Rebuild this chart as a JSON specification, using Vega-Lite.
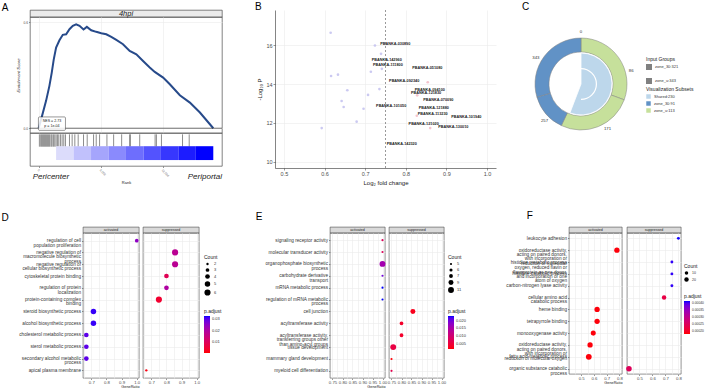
{
"$schema":"https://vega.github.io/schema/vega-lite/v6.json",
"background":"white",
"padding":{"left":1,"top":1,"right":2,"bottom":0},
"config":{
 "font":"Liberation Sans",
 "view":{"stroke":null},
 "axis":{"labelFontSize":4.3,"labelLineHeight":4.4,"titleFontSize":5.5,"labelColor":"#4d4d4d","titleColor":"#1a1a1a","titleFontWeight":"normal","tickColor":"#333333","domainColor":"#333333","gridColor":"#ebebeb","gridWidth":0.6,"tickSize":2,"tickWidth":0.5,"domainWidth":0.6,"labelPadding":1,"titlePadding":2},
 "legend":{"titleFontSize":5,"labelFontSize":4,"titleFontWeight":"normal","titleColor":"#1a1a1a","labelColor":"#333333","titlePadding":2,"labelOffset":3,"rowPadding":2},
 "title":{"fontSize":10,"fontWeight":"normal","anchor":"start","color":"#000000"}
},
"datasets":{
 "D":[
  {"t":"regulation of cell|population proliferation","g":"activated","r":1.0,"n":3,"p":0.025},
  {"t":"negative regulation of|macromolecule biosynthetic|process","g":"suppressed","r":0.857,"n":6,"p":0.018},
  {"t":"negative regulation of|cellular biosynthetic process","g":"suppressed","r":0.857,"n":6,"p":0.018},
  {"t":"cytoskeletal protein binding","g":"suppressed","r":0.8,"n":4,"p":0.009},
  {"t":"regulation of protein|localization","g":"suppressed","r":0.8,"n":4,"p":0.02},
  {"t":"protein-containing complex|binding","g":"suppressed","r":0.75,"n":6,"p":0.004},
  {"t":"steroid biosynthetic process","g":"activated","r":0.714,"n":5,"p":0.032},
  {"t":"alcohol biosynthetic process","g":"activated","r":0.714,"n":5,"p":0.032},
  {"t":"cholesterol metabolic process","g":"activated","r":0.667,"n":4,"p":0.03},
  {"t":"sterol metabolic process","g":"activated","r":0.667,"n":4,"p":0.03},
  {"t":"secondary alcohol metabolic|process","g":"activated","r":0.667,"n":4,"p":0.03},
  {"t":"apical plasma membrane","g":"suppressed","r":0.667,"n":2,"p":0.001}
 ],
 "E":[
  {"t":"signaling receptor activity","g":"activated","r":1.0,"n":5,"p":0.008},
  {"t":"molecular transducer activity","g":"activated","r":1.0,"n":5,"p":0.008},
  {"t":"organophosphate biosynthetic|process","g":"activated","r":1.0,"n":11,"p":0.016},
  {"t":"carbohydrate derivative|transport","g":"activated","r":1.0,"n":5,"p":0.02},
  {"t":"mRNA metabolic process","g":"activated","r":1.0,"n":5,"p":0.023},
  {"t":"regulation of mRNA metabolic|process","g":"activated","r":1.0,"n":5,"p":0.023},
  {"t":"cell junction","g":"suppressed","r":0.857,"n":9,"p":0.003},
  {"t":"acyltransferase activity","g":"suppressed","r":0.8,"n":7,"p":0.004},
  {"t":"acyltransferase activity,|transferring groups other|than amino-acyl groups","g":"suppressed","r":0.8,"n":7,"p":0.004},
  {"t":"tissue development","g":"suppressed","r":0.7586,"n":11,"p":0.006},
  {"t":"mammary gland development","g":"suppressed","r":0.75,"n":5,"p":0.002},
  {"t":"myeloid cell differentiation","g":"suppressed","r":0.75,"n":5,"p":0.007}
 ],
 "F":[
  {"t":"leukocyte adhesion","g":"suppressed","r":0.8,"n":4,"p":0.000415},
  {"t":"oxidoreductase activity,|acting on paired donors,|with incorporation or|reduction of molecular|oxygen, reduced flavin or|flavoprotein as one donor,|and incorporation of one|atom of oxygen","g":"activated","r":0.78,"n":32,"p":0.000185},
  {"t":"histidine metabolic process","g":"suppressed","r":0.75,"n":4,"p":0.00041},
  {"t":"histidine catabolic process","g":"suppressed","r":0.75,"n":4,"p":0.00041},
  {"t":"carbon-nitrogen lyase activity","g":"suppressed","r":0.75,"n":4,"p":0.00041},
  {"t":"cellular amino acid|catabolic process","g":"suppressed","r":0.69,"n":20,"p":0.00023},
  {"t":"heme binding","g":"activated","r":0.625,"n":32,"p":0.000185},
  {"t":"tetrapyrrole binding","g":"activated","r":0.625,"n":32,"p":0.000185},
  {"t":"monooxygenase activity","g":"activated","r":0.595,"n":28,"p":0.000185},
  {"t":"oxidoreductase activity,|acting on paired donors,|with incorporation or|reduction of molecular oxygen","g":"activated","r":0.57,"n":32,"p":0.000185},
  {"t":"fatty acid metabolic process","g":"activated","r":0.56,"n":40,"p":0.000185},
  {"t":"organic substance catabolic|process","g":"suppressed","r":0.42,"n":36,"p":0.00025}
 ]
},
"spacing":24,
"resolve":{"scale":{"color":"independent","size":"independent","fill":"independent","stroke":"independent"}},
"vconcat":[
 {
  "spacing":26,
  "resolve":{"scale":{"color":"independent","size":"independent","fill":"independent","stroke":"independent"}},
  "hconcat":[
   {
    "spacing":31,
    "resolve":{"scale":{"color":"independent","size":"independent","fill":"independent","stroke":"independent"}},
    "hconcat":[
     {
      "spacing":7,
      "resolve":{"scale":{"color":"independent","size":"independent","fill":"independent","stroke":"independent"}},
      "hconcat":[
       {"width":8,"height":1,"data":{"values":[{"lab":"A"}]},"mark":{"type":"text","fontSize":10,"baseline":"alphabetic","color":"#000000"},"encoding":{"text":{"field":"lab"}}},
       {
        "bounds":"flush","spacing":0,
        "vconcat":[
         {"width":192,"height":7,"data":{"values":[{"lab":"4hpi"}]},"view":{"fill":"#ebebeb","stroke":"#4d4d4d","strokeWidth":0.7},
          "mark":{"type":"text","fontSize":7.5,"fontStyle":"italic","color":"#1a1a1a","baseline":"middle"},
          "encoding":{"text":{"field":"lab"}}},
         {"width":192,"height":116,"view":{"stroke":"#4d4d4d","strokeWidth":0.7},
          "layer":[
           {"data":{"values":[{"rank":0,"es":0},{"rank":273,"es":0.07},{"rank":597,"es":0.155},{"rank":867,"es":0.24},{"rank":1056,"es":0.315},{"rank":1218,"es":0.39},{"rank":1407,"es":0.457},{"rank":1677,"es":0.498},{"rank":1947,"es":0.529},{"rank":2217,"es":0.532},{"rank":2487,"es":0.561},{"rank":2757,"es":0.58},{"rank":3026,"es":0.589},{"rank":3297,"es":0.58},{"rank":3621,"es":0.559},{"rank":3891,"es":0.574},{"rank":4242,"es":0.555},{"rank":4647,"es":0.546},{"rank":5052,"es":0.538},{"rank":5457,"es":0.532},{"rank":5862,"es":0.517},{"rank":6267,"es":0.5},{"rank":6807,"es":0.476},{"rank":7347,"es":0.438},{"rank":7887,"es":0.419},{"rank":8427,"es":0.381},{"rank":8967,"es":0.344},{"rank":9372,"es":0.319},{"rank":10047,"es":0.287},{"rank":10587,"es":0.249},{"rank":11397,"es":0.187},{"rank":12207,"es":0.145},{"rank":13017,"es":0.089},{"rank":14097,"es":0.0}]},
            "mark":{"type":"line","color":"#274a8a","strokeWidth":2},
            "encoding":{
             "x":{"field":"rank","type":"quantitative","scale":{"domain":[-700,14800],"nice":false,"zero":false},"axis":{"title":null,"labels":false,"ticks":false,"domain":false,"grid":true,"values":[0,2500,5000,7500,10000,12500]}},
             "y":{"field":"es","type":"quantitative","scale":{"domain":[-0.027,0.63],"nice":false,"zero":false},"axis":{"title":"Enrichment Score","titleFontSize":4.3,"titleFontStyle":"italic","labelFontSize":3.3,"values":[0,0.1,0.2,0.3,0.4,0.5,0.6],"format":".1f","labelExpr":"round(datum.value*10)%2==0 ? datum.label : ''","tickOpacity":{"condition":{"test":"round(datum.value*10)%2!=0","value":0},"value":1},"grid":true,"domain":false,"tickSize":1.5}}
            }},
           {"data":{"values":[{}]},"mark":{"type":"rule","color":"#333333","strokeWidth":0.7},"encoding":{"y":{"datum":0}}},
           {"data":{"values":[{}]},"mark":{"type":"rect","fill":"white","fillOpacity":0.85,"stroke":"#333333","strokeWidth":0.5,"cornerRadius":1},"encoding":{"x":{"datum":-20},"x2":{"datum":2163},"y":{"datum":0.064},"y2":{"datum":-0.012}}},
           {"data":{"values":[{}]},"mark":{"type":"text","fontSize":3.6,"color":"#1a1a1a"},"encoding":{"x":{"datum":1070},"y":{"datum":0.043},"text":{"value":"NES = 2.73"}}},
           {"data":{"values":[{}]},"mark":{"type":"text","fontSize":3.6,"color":"#1a1a1a"},"encoding":{"x":{"datum":1070},"y":{"datum":0.01},"text":{"value":"p = 1e-04"}}}
          ]},
         {"width":192,"height":33,"view":{"stroke":"#4d4d4d","strokeWidth":0.7},
          "layer":[
           {"data":{"values":[{"rank":57},{"rank":165},{"rank":246},{"rank":327},{"rank":408},{"rank":489},{"rank":570},{"rank":651},{"rank":732},{"rank":813},{"rank":894},{"rank":1002},{"rank":1083},{"rank":1191},{"rank":1299},{"rank":1407},{"rank":1515},{"rank":1623},{"rank":1758},{"rank":1893},{"rank":2028},{"rank":2163},{"rank":2487},{"rank":2703},{"rank":2919},{"rank":3189},{"rank":3621},{"rank":3918},{"rank":4431},{"rank":4647},{"rank":4917},{"rank":5511},{"rank":6051},{"rank":6699},{"rank":7347},{"rank":7401},{"rank":8157},{"rank":9399},{"rank":9507},{"rank":9912},{"rank":11613},{"rank":12153}]},
            "mark":{"type":"rule","color":"#1a1a1a","strokeWidth":0.5},
            "encoding":{
             "x":{"field":"rank","type":"quantitative","scale":{"domain":[-700,14800],"nice":false,"zero":false},"axis":{"title":"Rank","titleFontSize":4,"values":[0,5000,10000],"labelAngle":45,"labelFontSize":3,"domain":false,"grid":false,"tickSize":1.5,"titlePadding":3}},
             "y":{"datum":0.585,"scale":{"domain":[0,1]},"axis":null},
             "y2":{"datum":0.96}
            }},
           {"data":{"values":[{"bin":1,"r0":1407,"r1":2817},{"bin":2,"r0":2817,"r1":4227},{"bin":3,"r0":4227,"r1":5637},{"bin":4,"r0":5637,"r1":7047},{"bin":5,"r0":7047,"r1":8457},{"bin":6,"r0":8457,"r1":9867},{"bin":7,"r0":9867,"r1":11277},{"bin":8,"r0":11277,"r1":12687},{"bin":9,"r0":12687,"r1":14097}]},
            "mark":{"type":"rect"},
            "encoding":{"x":{"field":"r0","type":"quantitative"},"x2":{"field":"r1"},"y":{"datum":0.18},"y2":{"datum":0.6},
             "fill":{"field":"bin","type":"quantitative","scale":{"domain":[1,9],"range":["#dcdcfb","#0000ff"],"interpolate":"rgb"},"legend":null}}},
           {"data":{"values":[{"lab":"Pericenter","rank":988},{"lab":"Periportal","rank":13420}]},
            "mark":{"type":"text","fontSize":8,"fontStyle":"italic","color":"#1a1a1a","baseline":"middle"},
            "encoding":{"x":{"field":"rank","type":"quantitative"},"y":{"datum":-0.33},"text":{"field":"lab"}}}
          ]}
        ]
       }
      ]
     },
     {
      "title":{"text":"B","dx":-2,"offset":-2},
      "width":221,"height":158,
      "layer":[
       {"data":{"values":[{"fc":0.615,"p":16.63,"grp":"low"},{"fc":0.724,"p":15.98,"grp":"low"},{"fc":0.739,"p":15.55,"grp":"low"},{"fc":0.741,"p":14.78,"grp":"low"},{"fc":0.714,"p":14.63,"grp":"low"},{"fc":0.616,"p":14.41,"grp":"low"},{"fc":0.633,"p":14.48,"grp":"low"},{"fc":0.656,"p":13.68,"grp":"low"},{"fc":0.735,"p":13.74,"grp":"low"},{"fc":0.707,"p":13.44,"grp":"low"},{"fc":0.642,"p":13.13,"grp":"low"},{"fc":0.647,"p":12.82,"grp":"low"},{"fc":0.696,"p":12.73,"grp":"low"},{"fc":0.679,"p":12.07,"grp":"low"},{"fc":0.593,"p":11.74,"grp":"low"},{"fc":0.854,"p":14.09,"grp":"high"},{"fc":0.828,"p":13.42,"grp":"high"},{"fc":0.827,"p":12.37,"grp":"high"},{"fc":0.86,"p":11.74,"grp":"high"}]},
        "mark":{"type":"circle","size":7,"opacity":0.9},
        "encoding":{
         "x":{"field":"fc","type":"quantitative","scale":{"domain":[0.478,1.022],"nice":false,"zero":false},"axis":{"title":"Log₂ fold change","titleFontSize":6,"labelFontSize":5.5,"values":[0.5,0.55,0.6,0.65,0.7,0.75,0.8,0.85,0.9,0.95,1.0],"format":".1f","labelExpr":"round(datum.value*100)%10==0 ? datum.label : ''","tickOpacity":{"condition":{"test":"round(datum.value*100)%10!=0","value":0},"value":1},"grid":true,"titlePadding":3}},
         "y":{"field":"p","type":"quantitative","scale":{"domain":[9.69,17.8],"nice":false,"zero":false},"axis":{"title":"-Log₁₀ P","titleFontSize":6,"labelFontSize":5.5,"values":[10,11,12,13,14,15,16,17],"labelExpr":"datum.value%2==0 ? datum.label : ''","tickOpacity":{"condition":{"test":"datum.value%2!=0","value":0},"value":1},"grid":true,"titlePadding":3}},
         "color":{"field":"grp","type":"nominal","scale":{"domain":["low","high"],"range":["#c5c3ef","#f3bcc6"]},"legend":null}
        }},
       {"data":{"values":[{}]},"mark":{"type":"rule","strokeDash":[2,2],"color":"#555555","strokeWidth":0.6},"encoding":{"x":{"datum":0.75}}},
       {"data":{"values":[{"fc":0.774,"p":16.03,"name":"PBANKA-030890"},{"fc":0.753,"p":15.21,"name":"PBANKA-142960"},{"fc":0.756,"p":14.99,"name":"PBANKA-111800"},{"fc":0.853,"p":14.84,"name":"PBANKA-051080"},{"fc":0.796,"p":14.14,"name":"PBANKA-092340"},{"fc":0.859,"p":13.69,"name":"PBANKA-094100"},{"fc":0.85,"p":13.52,"name":"PBANKA-121830"},{"fc":0.88,"p":13.2,"name":"PBANKA-070090"},{"fc":0.764,"p":12.87,"name":"PBANKA-101050"},{"fc":0.869,"p":12.77,"name":"PBANKA-121880"},{"fc":0.866,"p":12.45,"name":"PBANKA-113230"},{"fc":0.949,"p":12.33,"name":"PBANKA-101940"},{"fc":0.844,"p":11.93,"name":"PBANKA-121020"},{"fc":0.917,"p":11.78,"name":"PBANKA-130010"},{"fc":0.79,"p":10.9,"name":"PBANKA-142320"}]},
        "mark":{"type":"text","fontSize":3.8,"fontWeight":"bold","color":"#222222"},
        "encoding":{"x":{"field":"fc","type":"quantitative"},"y":{"field":"p","type":"quantitative"},"text":{"field":"name"}}}
      ]
     }
    ]
   },
   {
    "title":{"text":"C","dx":-1,"offset":-2},
    "width":116,"height":148,
    "layer":[
     {"data":{"values":[{"a0":0,"a1":126,"subset":"zone_u:113","group":"zone_u:343"},{"a0":126,"a1":235,"subset":"zone_u:113","group":"zone_u:343"},{"a0":235,"a1":290,"subset":"zone_30:91","group":"zone_30:321"},{"a0":290,"a1":412,"subset":"zone_30:91","group":"zone_30:321"}]},
      "mark":{"type":"arc","radius":46,"radius2":32,"strokeWidth":0.5},
      "encoding":{
       "theta":{"field":"a0","type":"quantitative","scale":{"domain":[0,412],"range":[0,6.2832]},"stack":null},
       "theta2":{"field":"a1"},
       "fill":{"field":"subset","type":"nominal","scale":{"domain":["Shared:230","zone_30:91","zone_u:113"],"range":["#bdd7eb","#6192c6","#c6e09b"]},"legend":{"title":"Visualization Subsets","orient":"none","legendX":123,"legendY":77,"symbolType":"square","symbolSize":20,"symbolStrokeWidth":0}},
       "stroke":{"field":"group","type":"nominal","scale":{"domain":["zone_30:321","zone_u:343"],"range":["#808080","#808080"]},"legend":{"title":"Input Groups","orient":"none","legendX":123,"legendY":47,"symbolType":"square","symbolSize":20,"symbolFillColor":"#808080"}}
      }},
     {"data":{"values":[{"a0":0,"a1":230,"subset":"Shared:230"}]},
      "mark":{"type":"arc","radius":31,"radius2":0,"stroke":"white","strokeWidth":0.8},
      "encoding":{"theta":{"field":"a0","type":"quantitative","stack":null},"theta2":{"field":"a1"},"fill":{"field":"subset","type":"nominal"}}},
     {"data":{"values":[{"a0":0,"a1":206}]},
      "mark":{"type":"arc","radius":16,"radius2":14.8,"fill":"white"},
      "encoding":{"theta":{"field":"a0","type":"quantitative","stack":null},"theta2":{"field":"a1"}}},
     {"data":{"values":[{"v":0,"lab":"0"},{"v":86,"lab":"86"},{"v":171,"lab":"171"},{"v":257,"lab":"257"},{"v":343,"lab":"343"}]},
      "mark":{"type":"text","radius":52,"fontSize":4.3,"color":"#333333"},
      "encoding":{"theta":{"field":"v","type":"quantitative","stack":null},"text":{"field":"lab"}}}
    ]
   }
  ]
 },
 {
  "spacing":36,
  "resolve":{"scale":{"color":"independent","size":"independent","fill":"independent","stroke":"independent"}},
  "hconcat":[
   {
    "spacing":33,
    "resolve":{"scale":{"color":"independent","size":"independent","fill":"independent","stroke":"independent"}},
    "hconcat":[
     {
      "spacing":9,
      "resolve":{"scale":{"color":"independent","size":"independent","fill":"independent","stroke":"independent"}},
      "hconcat":[
       {"width":8,"height":1,"data":{"values":[{"lab":"D"}]},"mark":{"type":"text","fontSize":10,"baseline":"alphabetic","color":"#000000","dy":-7},"encoding":{"text":{"field":"lab"}}},
       {
        "spacing":1,
        "hconcat":[
         {"bounds":"flush","spacing":0,"vconcat":[
          {"width":56,"height":6,"data":{"values":[{"g":"activated"}]},"view":{"fill":"#d9d9d9","stroke":"#4d4d4d","strokeWidth":0.6},"mark":{"type":"text","fontSize":3.6,"color":"#1a1a1a","baseline":"middle"},"encoding":{"text":{"field":"g"}}},
          {"width":56,"height":145,"data":{"name":"D"},"transform":[{"filter":"datum.g=='activated'"}],"view":{"stroke":"#4d4d4d","strokeWidth":0.6},
           "mark":{"type":"circle","opacity":1},
           "encoding":{
            "x":{"field":"r","type":"quantitative","scale":{"domain":[0.645,1.015],"nice":false,"zero":false},"axis":{"title":"GeneRatio","titleX":56,"titleAlign":"right","titleFontSize":3.8,"titlePadding":0.5,"labelPadding":0.5,"tickSize":1.5,"values":[0.65,0.7,0.75,0.8,0.85,0.9,0.95,1.0],"format":".1f","labelExpr":"round(datum.value*100)%10==0 ? datum.label : ''","tickOpacity":{"condition":{"test":"round(datum.value*100)%10!=0","value":0},"value":1},"grid":true,"domain":false}},
            "y":{"field":"t","type":"nominal","scale":{"domain":["regulation of cell|population proliferation","negative regulation of|macromolecule biosynthetic|process","negative regulation of|cellular biosynthetic process","cytoskeletal protein binding","regulation of protein|localization","protein-containing complex|binding","steroid biosynthetic process","alcohol biosynthetic process","cholesterol metabolic process","sterol metabolic process","secondary alcohol metabolic|process","apical plasma membrane"],"padding":0.65},"axis":{"title":null,"labelExpr":"split(datum.label,'|')","labelFontSize":4.7,"labelColor":"#333333","grid":true,"domain":false,"tickSize":1.5}},
            "size":{"field":"n","type":"quantitative","scale":{"domain":[2,6],"range":[5.5,38],"zero":false},"legend":{"title":"Count","values":[2,3,4,5,6],"orient":"none","legendX":121,"legendY":28,"symbolFillColor":"black","symbolStrokeWidth":0}},
            "color":{"field":"p","type":"quantitative","scale":{"domain":[0,0.033],"range":["#ff0000","#0000ff"],"interpolate":"lab"},"legend":{"title":"p.adjust","values":[0.01,0.02,0.03],"format":".2f","orient":"none","legendX":121,"legendY":82,"gradientLength":37,"gradientThickness":6}}
           }}
         ]},
         {"bounds":"flush","spacing":0,"vconcat":[
          {"width":56,"height":6,"data":{"values":[{"g":"suppressed"}]},"view":{"fill":"#d9d9d9","stroke":"#4d4d4d","strokeWidth":0.6},"mark":{"type":"text","fontSize":3.6,"color":"#1a1a1a","baseline":"middle"},"encoding":{"text":{"field":"g"}}},
          {"width":56,"height":145,"data":{"name":"D"},"transform":[{"filter":"datum.g=='suppressed'"}],"view":{"stroke":"#4d4d4d","strokeWidth":0.6},
           "mark":{"type":"circle","opacity":1},
           "encoding":{
            "x":{"field":"r","type":"quantitative","scale":{"domain":[0.645,1.015],"nice":false,"zero":false},"axis":{"title":null,"labelPadding":0.5,"tickSize":1.5,"values":[0.65,0.7,0.75,0.8,0.85,0.9,0.95,1.0],"format":".1f","labelExpr":"round(datum.value*100)%10==0 ? datum.label : ''","tickOpacity":{"condition":{"test":"round(datum.value*100)%10!=0","value":0},"value":1},"grid":true,"domain":false}},
            "y":{"field":"t","type":"nominal","scale":{"domain":["regulation of cell|population proliferation","negative regulation of|macromolecule biosynthetic|process","negative regulation of|cellular biosynthetic process","cytoskeletal protein binding","regulation of protein|localization","protein-containing complex|binding","steroid biosynthetic process","alcohol biosynthetic process","cholesterol metabolic process","sterol metabolic process","secondary alcohol metabolic|process","apical plasma membrane"],"padding":0.65},"axis":{"title":null,"labels":false,"ticks":false,"grid":true,"domain":false}},
            "size":{"field":"n","type":"quantitative","scale":{"domain":[2,6],"range":[5.5,38],"zero":false},"legend":{"title":"Count","values":[2,3,4,5,6],"orient":"none","legendX":121,"legendY":28,"symbolFillColor":"black","symbolStrokeWidth":0}},
            "color":{"field":"p","type":"quantitative","scale":{"domain":[0,0.033],"range":["#ff0000","#0000ff"],"interpolate":"lab"},"legend":{"title":"p.adjust","values":[0.01,0.02,0.03],"format":".2f","orient":"none","legendX":121,"legendY":82,"gradientLength":37,"gradientThickness":6}}
           }}
         ]}
        ]
       }
      ]
     },
     {
      "title":{"text":"E","dx":-9,"offset":5},
      "spacing":0,
      "hconcat":[
       {"bounds":"flush","spacing":0,"vconcat":[
        {"width":55,"height":6,"data":{"values":[{"g":"activated"}]},"view":{"fill":"#d9d9d9","stroke":"#4d4d4d","strokeWidth":0.6},"mark":{"type":"text","fontSize":3.6,"color":"#1a1a1a","baseline":"middle"},"encoding":{"text":{"field":"g"}}},
        {"width":55,"height":145,"data":{"name":"E"},"transform":[{"filter":"datum.g=='activated'"}],"view":{"stroke":"#4d4d4d","strokeWidth":0.6},
         "mark":{"type":"circle","opacity":1},
         "encoding":{
          "x":{"field":"r","type":"quantitative","scale":{"domain":[0.7375,1.0125],"nice":false,"zero":false},"axis":{"title":"GeneRatio","titleX":55,"titleAlign":"right","titleFontSize":3.8,"titlePadding":0.5,"labelPadding":0.5,"tickSize":1.5,"values":[0.75,0.775,0.8,0.825,0.85,0.875,0.9,0.925,0.95,0.975,1.0],"format":".2f","labelExpr":"round(datum.value*1000)%50==0 ? datum.label : ''","tickOpacity":{"condition":{"test":"round(datum.value*1000)%50!=0","value":0},"value":1},"grid":true,"domain":false}},
          "y":{"field":"t","type":"nominal","scale":{"domain":["signaling receptor activity","molecular transducer activity","organophosphate biosynthetic|process","carbohydrate derivative|transport","mRNA metabolic process","regulation of mRNA metabolic|process","cell junction","acyltransferase activity","acyltransferase activity,|transferring groups other|than amino-acyl groups","tissue development","mammary gland development","myeloid cell differentiation"],"padding":0.6},"axis":{"title":null,"labelExpr":"split(datum.label,'|')","labelFontSize":4.7,"labelColor":"#333333","grid":true,"domain":false,"tickSize":1.5}},
          "size":{"field":"n","type":"quantitative","scale":{"domain":[5,11],"range":[4.5,35],"zero":false},"legend":{"title":"Count","values":[5,6,7,9,11],"orient":"none","legendX":118,"legendY":28,"symbolFillColor":"black","symbolStrokeWidth":0}},
          "color":{"field":"p","type":"quantitative","scale":{"domain":[0.0018,0.023],"range":["#ff0000","#0000ff"],"interpolate":"lab"},"legend":{"title":"p.adjust","values":[0.005,0.01,0.015,0.02],"format":".3f","orient":"none","legendX":118,"legendY":82,"gradientLength":33,"gradientThickness":6}}
         }}
       ]},
       {"bounds":"flush","spacing":0,"vconcat":[
        {"width":55,"height":6,"data":{"values":[{"g":"suppressed"}]},"view":{"fill":"#d9d9d9","stroke":"#4d4d4d","strokeWidth":0.6},"mark":{"type":"text","fontSize":3.6,"color":"#1a1a1a","baseline":"middle"},"encoding":{"text":{"field":"g"}}},
        {"width":55,"height":145,"data":{"name":"E"},"transform":[{"filter":"datum.g=='suppressed'"}],"view":{"stroke":"#4d4d4d","strokeWidth":0.6},
         "mark":{"type":"circle","opacity":1},
         "encoding":{
          "x":{"field":"r","type":"quantitative","scale":{"domain":[0.7375,1.0125],"nice":false,"zero":false},"axis":{"title":null,"labelPadding":0.5,"tickSize":1.5,"values":[0.75,0.775,0.8,0.825,0.85,0.875,0.9,0.925,0.95,0.975,1.0],"format":".2f","labelExpr":"round(datum.value*1000)%50==0 ? datum.label : ''","tickOpacity":{"condition":{"test":"round(datum.value*1000)%50!=0","value":0},"value":1},"grid":true,"domain":false}},
          "y":{"field":"t","type":"nominal","scale":{"domain":["signaling receptor activity","molecular transducer activity","organophosphate biosynthetic|process","carbohydrate derivative|transport","mRNA metabolic process","regulation of mRNA metabolic|process","cell junction","acyltransferase activity","acyltransferase activity,|transferring groups other|than amino-acyl groups","tissue development","mammary gland development","myeloid cell differentiation"],"padding":0.6},"axis":{"title":null,"labels":false,"ticks":false,"grid":true,"domain":false}},
          "size":{"field":"n","type":"quantitative","scale":{"domain":[5,11],"range":[4.5,35],"zero":false},"legend":{"title":"Count","values":[5,6,7,9,11],"orient":"none","legendX":118,"legendY":28,"symbolFillColor":"black","symbolStrokeWidth":0}},
          "color":{"field":"p","type":"quantitative","scale":{"domain":[0.0018,0.023],"range":["#ff0000","#0000ff"],"interpolate":"lab"},"legend":{"title":"p.adjust","values":[0.005,0.01,0.015,0.02],"format":".3f","orient":"none","legendX":118,"legendY":82,"gradientLength":33,"gradientThickness":6}}
         }}
       ]}
      ]
     }
    ]
   },
   {
    "title":{"text":"F","dx":23,"offset":6},
    "spacing":2,
    "hconcat":[
     {"bounds":"flush","spacing":0,"vconcat":[
      {"width":53,"height":6,"data":{"values":[{"g":"activated"}]},"view":{"fill":"#d9d9d9","stroke":"#4d4d4d","strokeWidth":0.6},"mark":{"type":"text","fontSize":3.6,"color":"#1a1a1a","baseline":"middle"},"encoding":{"text":{"field":"g"}}},
      {"width":53,"height":141,"data":{"name":"F"},"transform":[{"filter":"datum.g=='activated'"}],"view":{"stroke":"#4d4d4d","strokeWidth":0.6},
       "mark":{"type":"circle","opacity":1},
       "encoding":{
        "x":{"field":"r","type":"quantitative","scale":{"domain":[0.405,0.82],"nice":false,"zero":false},"axis":{"title":"GeneRatio","titleX":53,"titleAlign":"right","titleFontSize":3.8,"titlePadding":0.5,"labelPadding":0.5,"tickSize":1.5,"values":[0.45,0.5,0.55,0.6,0.65,0.7,0.75,0.8],"format":".1f","labelExpr":"round(datum.value*100)%10==0 ? datum.label : ''","tickOpacity":{"condition":{"test":"round(datum.value*100)%10!=0","value":0},"value":1},"grid":true,"domain":false}},
        "y":{"field":"t","type":"nominal","scale":{"domain":["leukocyte adhesion","oxidoreductase activity,|acting on paired donors,|with incorporation or|reduction of molecular|oxygen, reduced flavin or|flavoprotein as one donor,|and incorporation of one|atom of oxygen","histidine metabolic process","histidine catabolic process","carbon-nitrogen lyase activity","cellular amino acid|catabolic process","heme binding","tetrapyrrole binding","monooxygenase activity","oxidoreductase activity,|acting on paired donors,|with incorporation or|reduction of molecular oxygen","fatty acid metabolic process","organic substance catabolic|process"],"padding":0.45},"axis":{"title":null,"labelExpr":"split(datum.label,'|')","labelFontSize":4.7,"labelColor":"#333333","grid":true,"domain":false,"tickSize":1.5}},
        "size":{"field":"n","type":"quantitative","scale":{"domain":[0,40],"range":[5.6,33.6],"zero":false},"legend":{"title":"Count","values":[10,20],"orient":"none","legendX":115,"legendY":37,"symbolFillColor":"black","symbolStrokeWidth":0,"labelFontSize":3.5}},
        "color":{"field":"p","type":"quantitative","scale":{"domain":[0.000181,0.000416],"range":["#ff0000","#0000ff"],"interpolate":"lab"},"legend":{"title":"p.adjust","values":[0.0002,0.00025,0.0003,0.00035,0.0004],"format":".5f","orient":"none","legendX":115,"legendY":67,"gradientLength":33,"gradientThickness":6,"labelFontSize":3.3}}
       }}
     ]},
     {"bounds":"flush","spacing":0,"vconcat":[
      {"width":54,"height":6,"data":{"values":[{"g":"suppressed"}]},"view":{"fill":"#d9d9d9","stroke":"#4d4d4d","strokeWidth":0.6},"mark":{"type":"text","fontSize":3.6,"color":"#1a1a1a","baseline":"middle"},"encoding":{"text":{"field":"g"}}},
      {"width":54,"height":141,"data":{"name":"F"},"transform":[{"filter":"datum.g=='suppressed'"}],"view":{"stroke":"#4d4d4d","strokeWidth":0.6},
       "mark":{"type":"circle","opacity":1},
       "encoding":{
        "x":{"field":"r","type":"quantitative","scale":{"domain":[0.405,0.82],"nice":false,"zero":false},"axis":{"title":null,"labelPadding":0.5,"tickSize":1.5,"values":[0.45,0.5,0.55,0.6,0.65,0.7,0.75,0.8],"format":".1f","labelExpr":"round(datum.value*100)%10==0 ? datum.label : ''","tickOpacity":{"condition":{"test":"round(datum.value*100)%10!=0","value":0},"value":1},"grid":true,"domain":false}},
        "y":{"field":"t","type":"nominal","scale":{"domain":["leukocyte adhesion","oxidoreductase activity,|acting on paired donors,|with incorporation or|reduction of molecular|oxygen, reduced flavin or|flavoprotein as one donor,|and incorporation of one|atom of oxygen","histidine metabolic process","histidine catabolic process","carbon-nitrogen lyase activity","cellular amino acid|catabolic process","heme binding","tetrapyrrole binding","monooxygenase activity","oxidoreductase activity,|acting on paired donors,|with incorporation or|reduction of molecular oxygen","fatty acid metabolic process","organic substance catabolic|process"],"padding":0.45},"axis":{"title":null,"labels":false,"ticks":false,"grid":true,"domain":false}},
        "size":{"field":"n","type":"quantitative","scale":{"domain":[0,40],"range":[5.6,33.6],"zero":false},"legend":{"title":"Count","values":[10,20],"orient":"none","legendX":115,"legendY":37,"symbolFillColor":"black","symbolStrokeWidth":0,"labelFontSize":3.5}},
        "color":{"field":"p","type":"quantitative","scale":{"domain":[0.000181,0.000416],"range":["#ff0000","#0000ff"],"interpolate":"lab"},"legend":{"title":"p.adjust","values":[0.0002,0.00025,0.0003,0.00035,0.0004],"format":".5f","orient":"none","legendX":115,"legendY":67,"gradientLength":33,"gradientThickness":6,"labelFontSize":3.3}}
       }}
     ]}
    ]
   }
  ]
 }
]
}
